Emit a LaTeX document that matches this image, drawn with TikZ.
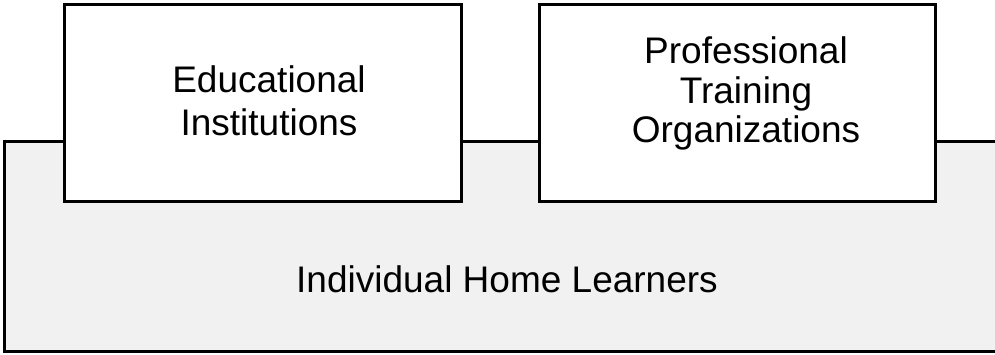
\documentclass[tikz,border=0pt]{standalone}
\usepackage{fontspec}
\setmainfont{Liberation Sans}
\definecolor{homegray}{RGB}{241,241,241}
\begin{document}
\begin{tikzpicture}[x=1pt,y=-1pt,
  frame/.style={draw=black, line width=3pt, inner sep=0pt, outer sep=0pt, anchor=north west},
  boxtext/.style={anchor=base, align=center, inner sep=0pt, font=\fontsize{37}{#1}\selectfont},
  boxtext/.default=41]
\clip (0,0) rectangle (995,354);
\fill[white] (0,0) rectangle (995,354);

% background band for home learners, running past the right edge
\node[frame, fill=homegray, minimum width=1006pt, minimum height=210pt] (home) at (4,141) {};
\node[boxtext] (home-text) at (507,292.3) {Individual Home Learners};

% institutional boxes sitting on top of the band
\node[frame, fill=white, minimum width=397pt, minimum height=197pt] (edu) at (64,4) {};
\node[frame, fill=white, minimum width=396pt, minimum height=197pt] (pro) at (539,4) {};

% multi-line labels are placed by the baseline of their last line
\node[boxtext=42.3] (edu-text) at (269,135) {Educational\\Institutions};
\node[boxtext=39.7] (pro-text) at (746,142.7) {Professional\\Training\\Organizations};
\end{tikzpicture}
\end{document}
